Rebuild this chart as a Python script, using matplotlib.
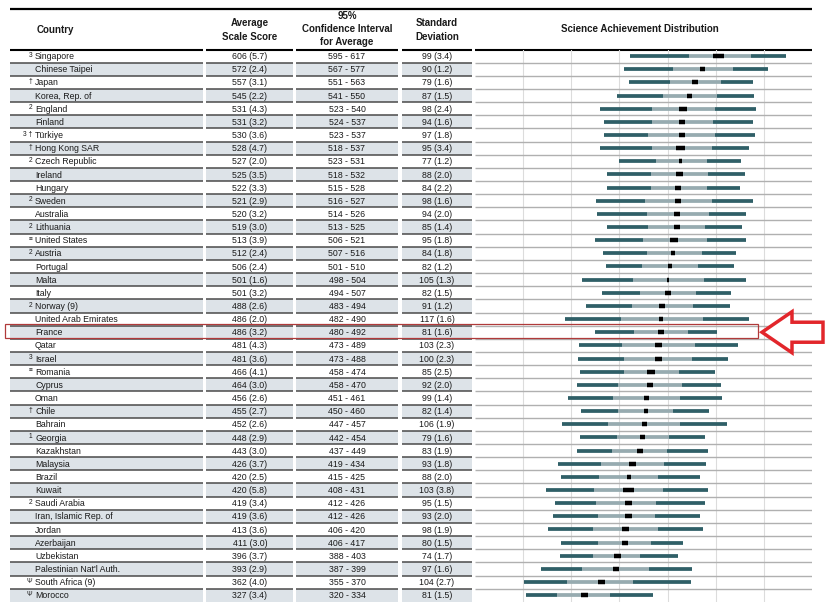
import matplotlib
matplotlib.use("Agg")
import matplotlib.pyplot as plt
from matplotlib.patches import Rectangle, Polygon

plt.rcParams['font.family'] = ['Liberation Sans', 'DejaVu Sans']

# table data
countries = ["Singapore", "Chinese Taipei", "Japan", "Korea, Rep. of", "England", "Finland",
             "Türkiye", "Hong Kong SAR", "Czech Republic", "Ireland", "Hungary", "Sweden",
             "Australia", "Lithuania", "United States", "Austria", "Portugal", "Malta", "Italy",
             "Norway (9)", "United Arab Emirates", "France", "Qatar", "Israel", "Romania",
             "Cyprus", "Oman", "Chile", "Bahrain", "Georgia", "Kazakhstan", "Malaysia", "Brazil",
             "Kuwait", "Saudi Arabia", "Iran, Islamic Rep. of", "Jordan", "Azerbaijan",
             "Uzbekistan", "Palestinian Nat'l Auth.", "South Africa (9)", "Morocco"]
notes = ["3", "", "†", "", "2", "", "3 †", "†", "2", "", "", "2", "", "2", "≡", "2", "", "", "",
         "2", "", "", "", "3", "≡", "", "", "†", "", "1", "", "", "", "", "2", "", "", "", "",
         "", "Ψ", "Ψ"]
avg = [606, 572, 557, 545, 531, 531, 530, 528, 527, 525, 522, 521, 520, 519, 513, 512, 506,
       501, 501, 488, 486, 486, 481, 481, 466, 464, 456, 455, 452, 448, 443, 426, 420, 420,
       419, 419, 413, 411, 396, 393, 362, 327]
avg_se = [5.7, 2.4, 3.1, 2.2, 4.3, 3.2, 3.6, 4.7, 2.0, 3.5, 3.3, 2.9, 3.2, 3.0, 3.9, 2.4, 2.4,
          1.6, 3.2, 2.6, 2.0, 3.2, 4.3, 3.6, 4.1, 3.0, 2.6, 2.7, 2.6, 2.9, 3.0, 3.7, 2.5, 5.8,
          3.4, 3.6, 3.6, 3.0, 3.7, 2.9, 4.0, 3.4]
ci_lo = [595, 567, 551, 541, 523, 524, 523, 518, 523, 518, 515, 516, 514, 513, 506, 507, 501,
         498, 494, 483, 482, 480, 473, 473, 458, 458, 451, 450, 447, 442, 437, 419, 415, 408,
         412, 412, 406, 406, 388, 387, 355, 320]
ci_hi = [617, 577, 563, 550, 540, 537, 537, 537, 531, 532, 528, 527, 526, 525, 521, 516, 510,
         504, 507, 494, 490, 492, 489, 488, 474, 470, 461, 460, 457, 454, 449, 434, 425, 431,
         426, 426, 420, 417, 403, 399, 370, 334]
sd = [99, 90, 79, 87, 98, 94, 97, 95, 77, 88, 84, 98, 94, 85, 95, 84, 82, 105, 82, 91, 117, 81,
      103, 100, 85, 92, 99, 82, 106, 79, 83, 93, 88, 103, 95, 93, 98, 80, 74, 97, 104, 81]
sd_se = [3.4, 1.2, 1.6, 1.5, 2.4, 1.6, 1.8, 3.4, 1.2, 2.0, 2.2, 1.6, 2.0, 1.4, 1.8, 1.8, 1.2,
         1.3, 1.5, 1.2, 1.6, 1.6, 2.3, 2.3, 2.5, 2.0, 1.4, 1.4, 1.9, 1.6, 1.9, 1.8, 2.0, 3.8,
         1.5, 2.0, 1.9, 1.5, 1.7, 1.6, 2.7, 1.5]

# percentiles of the achievement distribution (estimated from the bars)
p5 = [422, 410, 419, 394, 359, 367, 367, 359, 399, 374, 374, 352, 354, 374, 349, 365, 372, 323,
      363, 331, 286, 350, 315, 314, 319, 311, 293, 321, 281, 318, 312, 272, 279, 248, 266, 261,
      252, 279, 277, 237, 201, 206]
p25 = [545, 512, 505, 490, 467, 468, 460, 468, 475, 466, 466, 454, 457, 460, 448, 457, 446, 428,
       443, 426, 403, 430, 405, 409, 410, 398, 386, 398, 376, 394, 384, 362, 357, 347, 352, 355,
       345, 355, 346, 323, 292, 270]
p75 = [674, 636, 612, 603, 599, 595, 599, 593, 581, 585, 581, 592, 587, 577, 581, 571, 563, 575,
       559, 552, 573, 542, 556, 550, 523, 529, 526, 512, 526, 502, 499, 492, 480, 490, 476, 474,
       481, 466, 443, 462, 428, 380]
p95 = [746, 708, 677, 680, 683, 678, 681, 669, 652, 660, 651, 677, 663, 655, 662, 642, 638, 662,
       631, 630, 669, 602, 647, 626, 598, 612, 614, 586, 623, 577, 583, 580, 568, 584, 577, 568,
       573, 533, 521, 551, 549, 470]

highlight = "France"

W, H = 835, 606
ROW_TOP = 49.5
ROW_H = 13.15
n = len(countries)

# column spans in pixels
cols = {"country": (10, 203), "avg": (206, 293), "ci": (296, 398), "sd": (402, 472),
        "dist": (475, 812)}

DARK = "#2f5f67"
LIGHT = "#97abb0"
SHADE = "#dde3e8"
TXT = "#1a1a1a"


def row_y(i):
    return ROW_TOP + ROW_H * i


fig = plt.figure(figsize=(W / 100, H / 100), dpi=100)
fig.patch.set_facecolor("white")

base = fig.add_axes([0, 0, 1, 1])
base.set_xlim(0, W)
base.set_ylim(H, 0)
base.axis("off")

# shaded rows and row separators in the table columns
table_cols = ["country", "avg", "ci", "sd"]
for i in range(n):
    y0 = row_y(i)
    for c in table_cols:
        x0, x1 = cols[c]
        if i % 2 == 1:
            base.add_patch(Rectangle((x0, y0), x1 - x0, ROW_H, facecolor=SHADE,
                                     edgecolor="none", zorder=1))
        if i > 0:
            base.plot([x0, x1], [y0, y0], color="#4a4a4a", lw=1.1, zorder=2,
                      solid_capstyle="butt")

# header lines
base.plot([10, 812], [9, 9], color="black", lw=1.6, solid_capstyle="butt")
for c in cols:
    x0, x1 = cols[c]
    base.plot([x0, x1], [ROW_TOP, ROW_TOP], color="black", lw=1.5, solid_capstyle="butt",
              zorder=3)

hdr = dict(fontsize=7, fontweight="bold", color=TXT, ha="center", va="center",
           linespacing=1.4)
base.text(55, 30, "Country", **hdr)
base.text(250, 30, "Average\nScale Score", **hdr)
base.text(347, 29, "95%\nConfidence Interval\nfor Average", **hdr)
base.text(437, 30, "Standard\nDeviation", **hdr)
base.text(640, 29, "Science Achievement Distribution", **hdr)

# body text
for i in range(n):
    yc = row_y(i) + ROW_H / 2 + 0.6
    base.text(35, yc, countries[i], fontsize=6.3, color=TXT, ha="left", va="center")
    if notes[i]:
        base.text(32.5, yc - 1.5, notes[i], fontsize=4.8, color=TXT, ha="right",
                  va="center")
    base.text(250, yc, f"{avg[i]} ({avg_se[i]:.1f})", fontsize=6.3, color=TXT,
              ha="center", va="center")
    base.text(347, yc, f"{ci_lo[i]} - {ci_hi[i]}", fontsize=6.3, color=TXT,
              ha="center", va="center")
    base.text(437, yc, f"{sd[i]} ({sd_se[i]:.1f})", fontsize=6.3, color=TXT,
              ha="center", va="center")

# distribution panel on its own score scale
dx0, dx1 = cols["dist"]
y_bot = row_y(n)
ax = fig.add_axes([dx0 / W, 1 - y_bot / H, (dx1 - dx0) / W, (y_bot - ROW_TOP) / H])
ax.set_xlim(100, 800)
ax.set_ylim(n, 0)
ax.patch.set_alpha(0)
for s in ax.spines.values():
    s.set_visible(False)
ax.set_xticks(range(200, 800, 100))
ax.set_yticks([])
ax.tick_params(length=0, labelbottom=False)
ax.grid(axis="x", color="#dcdcdc", lw=0.8)
ax.set_axisbelow(True)

ax.hlines(range(1, n), 100, 800, color="#b0b0b0", lw=1.0, zorder=1)

ys = [i + 0.5 for i in range(n)]
ax.hlines(ys, p5, p25, color=DARK, lw=2.7, zorder=3)
ax.hlines(ys, p75, p95, color=DARK, lw=2.7, zorder=3)
ax.hlines(ys, p25, p75, color=LIGHT, lw=2.7, zorder=3)
ax.hlines(ys, ci_lo, ci_hi, color="black", lw=3.2, zorder=4)

# highlight box and arrow for the selected country
top = fig.add_axes([0, 0, 1, 1])
top.set_xlim(0, W)
top.set_ylim(H, 0)
top.axis("off")
top.patch.set_alpha(0)

k = countries.index(highlight)
hy = row_y(k)
top.add_patch(Rectangle((5, hy - 1.2), 753, ROW_H + 0.6, facecolor="none",
                        edgecolor="#b03a3a", lw=0.9))
yc = hy + ROW_H / 2
arrow = [(762, yc), (792, yc - 20.5), (792, yc - 10), (823, yc - 10), (823, yc + 10),
         (792, yc + 10), (792, yc + 20.5)]
top.add_patch(Polygon(arrow, closed=True, facecolor="white", edgecolor="#e2262b",
                      lw=2.5, joinstyle="miter"))

fig.savefig("out.png", dpi=100, facecolor="white")
